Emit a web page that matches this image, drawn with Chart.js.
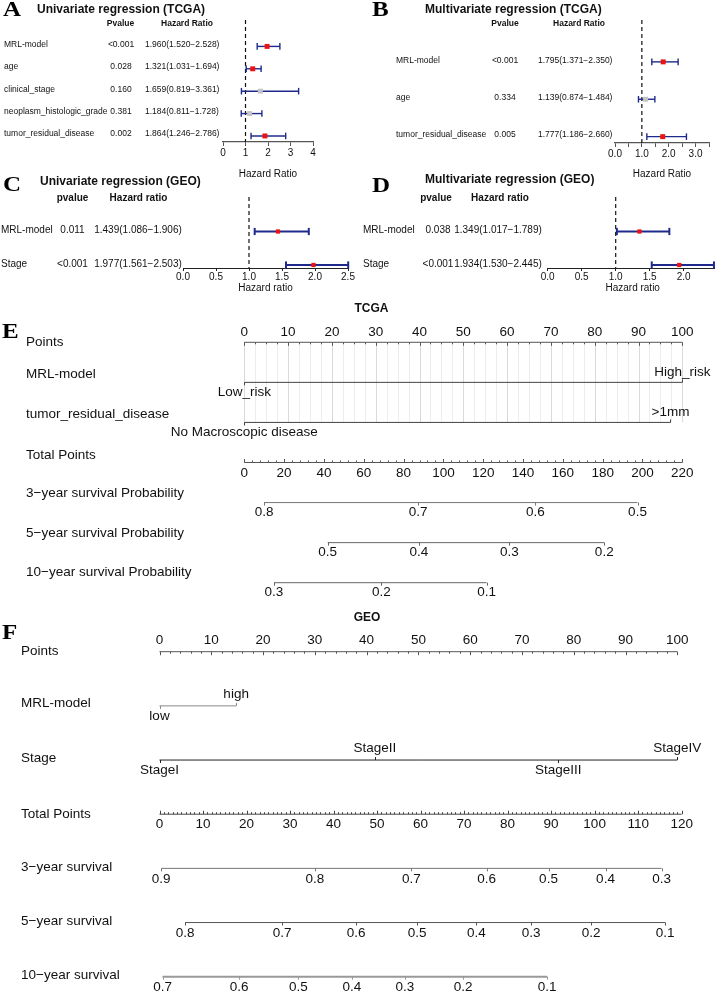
<!DOCTYPE html>
<html>
<head>
<meta charset="utf-8">
<script src="https://cdn.jsdelivr.net/npm/chart.js@4.4.1/dist/chart.umd.min.js"></script>
<style>
  html, body { margin: 0; padding: 0; background: #fff; }
  body { width: 715px; height: 993px; position: relative; overflow: hidden; }
  canvas { position: absolute; }
</style>
</head>
<body>
<canvas id="cA" width="357" height="180" style="left:0;top:0"></canvas>
<canvas id="cB" width="360" height="180" style="left:355px;top:0"></canvas>
<canvas id="cC" width="357" height="135" style="left:0;top:165px"></canvas>
<canvas id="cD" width="370" height="135" style="left:355px;top:165px"></canvas>
<canvas id="cE" width="715" height="305" style="left:0;top:295px"></canvas>
<canvas id="cF" width="715" height="393" style="left:0;top:600px"></canvas>
<script>
// ---- A: univariate regression (TCGA)
const uniTcgaVars = ['MRL-model', 'age', 'clinical_stage', 'neoplasm_histologic_grade', 'tumor_residual_disease'];
const uniTcgaP = ['<0.001', '0.028', '0.160', '0.381', '0.002'];
const uniTcgaHR = [1.960, 1.321, 1.659, 1.184, 1.864];
const uniTcgaLo = [1.520, 1.031, 0.819, 0.811, 1.246];
const uniTcgaHi = [2.528, 1.694, 3.361, 1.728, 2.786];

// ---- B: multivariate regression (TCGA)
const multiTcgaVars = ['MRL-model', 'age', 'tumor_residual_disease'];
const multiTcgaP = ['<0.001', '0.334', '0.005'];
const multiTcgaHR = [1.795, 1.139, 1.777];
const multiTcgaLo = [1.371, 0.874, 1.186];
const multiTcgaHi = [2.350, 1.484, 2.660];

// ---- C: univariate regression (GEO)
const uniGeoVars = ['MRL-model', 'Stage'];
const uniGeoP = ['0.011', '<0.001'];
const uniGeoHR = [1.439, 1.977];
const uniGeoLo = [1.086, 1.561];
const uniGeoHi = [1.906, 2.503];

// ---- D: multivariate regression (GEO)
const multiGeoVars = ['MRL-model', 'Stage'];
const multiGeoP = ['0.038', '<0.001'];
const multiGeoHR = [1.349, 1.934];
const multiGeoLo = [1.017, 1.530];
const multiGeoHi = [1.789, 2.445];

// ---- E: TCGA nomogram (probability ticks placed on the total points scale)
const tcgaPointTicks = [0, 10, 20, 30, 40, 50, 60, 70, 80, 90, 100];
const tcgaMrlLevels = ['Low_risk', 'High_risk'];
const tcgaMrlPoints = [0, 100];
const tcgaResidualLevels = ['No Macroscopic disease', '>1mm'];
const tcgaResidualPoints = [0, 97.3];
const tcgaTotalTicks = [0, 20, 40, 60, 80, 100, 120, 140, 160, 180, 200, 220];
const tcga3yLabels = ['0.8', '0.7', '0.6', '0.5'];
const tcga3yPoints = [9.9, 87.3, 146.2, 197.5];
const tcga5yLabels = ['0.5', '0.4', '0.3', '0.2'];
const tcga5yPoints = [41.9, 87.7, 133.1, 180.8];
const tcga10yLabels = ['0.3', '0.2', '0.1'];
const tcga10yPoints = [14.9, 68.8, 121.7];

// ---- F: GEO nomogram
const geoPointTicks = [0, 10, 20, 30, 40, 50, 60, 70, 80, 90, 100];
const geoMrlLevels = ['low', 'high'];
const geoMrlPoints = [0, 14.8];
const geoStageLevels = ['StageI', 'StageII', 'StageIII', 'StageIV'];
const geoStagePoints = [0, 41.6, 77.0, 100];
const geoTotalTicks = [0, 10, 20, 30, 40, 50, 60, 70, 80, 90, 100, 110, 120];
const geo3yLabels = ['0.9', '0.8', '0.7', '0.6', '0.5', '0.4', '0.3'];
const geo3yPoints = [0.4, 35.7, 57.9, 75.2, 89.4, 102.5, 115.4];
const geo5yLabels = ['0.8', '0.7', '0.6', '0.5', '0.4', '0.3', '0.2', '0.1'];
const geo5yPoints = [5.9, 28.2, 45.2, 59.2, 72.8, 85.4, 99.2, 116.2];
const geo10yLabels = ['0.7', '0.6', '0.5', '0.4', '0.3', '0.2', '0.1'];
const geo10yPoints = [0.7, 18.3, 31.9, 44.2, 56.4, 69.8, 89.1];

const SANS = '"Liberation Sans", Arial, sans-serif';
const SERIF = '"Liberation Serif", "Times New Roman", serif';
const NAVY = '#1f2a8c';
Chart.defaults.font.family = SANS;
Chart.defaults.color = '#111';

const isSig = p => p.startsWith('<') || parseFloat(p) < 0.05;
const hrText = (h, l, u) => h.toFixed(3) + '(' + l.toFixed(3) + '\u2212' + u.toFixed(3) + ')';

// panel letter: bold serif, a bit wider than the plain font; y is the baseline
function drawLetter(ctx, letter, x, y) {
  ctx.save();
  ctx.translate(x, y);
  ctx.scale(1.25, 1);
  ctx.font = 'bold 20px ' + SERIF;
  ctx.textAlign = 'left';
  ctx.textBaseline = 'alphabetic';
  ctx.fillStyle = '#000';
  ctx.fillText(letter, 0, 0);
  ctx.restore();
}

function forest(id, d, L) {
  const colors = d.p.map(p => isSig(p) ? '#ee1111' : '#c4c4c4');
  const datasets = [{
    data: d.hr.map((v, i) => ({ x: v, y: i })),
    pointStyle: 'rect', pointRadius: L.sq,
    pointBackgroundColor: colors, pointBorderColor: colors, pointBorderWidth: 0,
    clip: false
  }];
  // confidence intervals with end caps
  d.hr.forEach((v, i) => datasets.push({
    data: [{ x: d.lo[i], y: i }, { x: d.hi[i], y: i }],
    showLine: true, borderColor: NAVY, borderWidth: L.lw,
    pointStyle: 'line', pointRotation: 90, pointRadius: L.cap,
    pointBorderColor: NAVY, pointBorderWidth: L.lw, clip: false
  }));
  // reference line at HR = 1
  datasets.push({
    data: [{ x: 1, y: L.yMin }, { x: 1, y: L.yMax }],
    showLine: true, borderColor: '#111', borderWidth: 1.2, borderDash: [4, 3], pointRadius: 0
  });

  const labels = d.hr.map((v, i) => hrText(v, d.lo[i], d.hi[i]));
  const textPlugin = {
    id: 'forestText',
    afterDraw(chart) {
      const ctx = chart.ctx, ys = chart.scales.y;
      drawLetter(ctx, L.letter, L.letterX, L.letterY);
      ctx.save();
      ctx.fillStyle = '#111';
      ctx.textBaseline = 'middle';
      ctx.textAlign = 'left';
      ctx.font = 'bold 12px ' + SANS;
      ctx.fillText(L.title, L.titleX, L.titleY);
      ctx.textAlign = 'center';
      ctx.font = 'bold ' + L.fs + 'px ' + SANS;
      ctx.fillText(L.pHead, L.pHeadX, L.headY);
      ctx.fillText(L.hrHead, L.hrHeadX, L.headY);
      ctx.font = L.fs + 'px ' + SANS;
      d.vars.forEach((v, i) => {
        const py = ys.getPixelForValue(i) + L.textDy;
        ctx.textAlign = 'left';
        ctx.fillText(v, L.nameX, py);
        ctx.textAlign = 'center';
        ctx.fillText(d.p[i], L.pX, py);
        ctx.textAlign = L.hrAlign;
        ctx.fillText(labels[i], L.hrX, py);
      });
      ctx.restore();
    }
  };

  new Chart(document.getElementById(id), {
    type: 'scatter',
    data: { datasets },
    options: {
      responsive: false, animation: false, events: [],
      layout: { padding: L.pad },
      plugins: { legend: { display: false }, tooltip: { enabled: false } },
      scales: {
        x: {
          type: 'linear', min: 0, max: L.xMax,
          ticks: {
            stepSize: L.step, autoSkip: false, maxRotation: 0, padding: L.tickPad,
            font: { size: 10, lineHeight: L.lh }, color: '#111', callback: L.fmt
          },
          grid: { drawOnChartArea: false, drawTicks: true, tickLength: L.tl, tickColor: L.axisColor, tickWidth: 1 },
          border: { display: true, color: L.axisColor, width: L.axisW },
          title: {
            display: true, text: L.axisTitle, color: '#111',
            font: { size: 10, lineHeight: L.lh }, padding: { top: L.titlePad, bottom: 0 }
          }
        },
        y: { type: 'linear', display: false, reverse: true, min: L.yMin, max: L.yMax }
      }
    },
    plugins: [textPlugin]
  });
}

forest('cA',
  { vars: uniTcgaVars, p: uniTcgaP, hr: uniTcgaHR, lo: uniTcgaLo, hi: uniTcgaHi },
  { letter: 'A', letterX: 3, letterY: 16, title: 'Univariate regression (TCGA)', titleX: 37, titleY: 9.5,
    headY: 24, pHead: 'Pvalue', pHeadX: 120.5, hrHead: 'Hazard Ratio', hrHeadX: 187,
    nameX: 4, pX: 121, hrX: 145, hrAlign: 'left', fs: 8.5, textDy: -2,
    pad: { left: 223, right: 44, top: 20, bottom: 0 },
    xMax: 4, step: 1, fmt: v => String(v), tl: 4, tickPad: 1.5, lh: 1.2, titlePad: 7,
    axisTitle: 'Hazard Ratio', axisColor: '#555', axisW: 1.3,
    yMin: -1.18, yMax: 4.27, sq: 3.5, cap: 3.3, lw: 1.4 });

forest('cB',
  { vars: multiTcgaVars, p: multiTcgaP, hr: multiTcgaHR, lo: multiTcgaLo, hi: multiTcgaHi },
  { letter: 'B', letterX: 17, letterY: 16, title: 'Multivariate regression (TCGA)', titleX: 70, titleY: 10,
    headY: 24, pHead: 'Pvalue', pHeadX: 150, hrHead: 'Hazard Ratio', hrHeadX: 224,
    nameX: 41, pX: 150, hrX: 183, hrAlign: 'left', fs: 8.5, textDy: -1.5,
    pad: { left: 260, right: 6, top: 20, bottom: 0 },
    xMax: 3.5, step: 0.5, fmt: v => (Number.isInteger(v) ? v.toFixed(1) : ''), tl: 4, tickPad: 1, lh: 1.2, titlePad: 7,
    axisTitle: 'Hazard Ratio', axisColor: '#555', axisW: 1.3,
    yMin: -1.12, yMax: 2.17, sq: 3.5, cap: 3.3, lw: 1.4 });

forest('cC',
  { vars: uniGeoVars, p: uniGeoP, hr: uniGeoHR, lo: uniGeoLo, hi: uniGeoHi },
  { letter: 'C', letterX: 3, letterY: 25.5, title: 'Univariate regression (GEO)', titleX: 40, titleY: 16.7,
    headY: 33, pHead: 'pvalue', pHeadX: 72.5, hrHead: 'Hazard ratio', hrHeadX: 138.5,
    nameX: 1, pX: 72.5, hrX: 138, hrAlign: 'center', fs: 10, textDy: -1,
    pad: { left: 183, right: 9, top: 32, bottom: 7 },
    xMax: 2.5, step: 0.5, fmt: v => v.toFixed(1), tl: 3, tickPad: 1, lh: 1.0, titlePad: 0,
    axisTitle: 'Hazard ratio', axisColor: '#222', axisW: 1,
    yMin: -1.03, yMax: 1.09, sq: 3, cap: 3.6, lw: 2 });

// the 2.5 tick of panel D falls off the right edge of the figure
forest('cD',
  { vars: multiGeoVars, p: multiGeoP, hr: multiGeoHR, lo: multiGeoLo, hi: multiGeoHi },
  { letter: 'D', letterX: 17, letterY: 26.5, title: 'Multivariate regression (GEO)', titleX: 70, titleY: 15,
    headY: 33, pHead: 'pvalue', pHeadX: 81, hrHead: 'Hazard ratio', hrHeadX: 145,
    nameX: 8, pX: 83, hrX: 143, hrAlign: 'center', fs: 10, textDy: -1,
    pad: { left: 192.7, right: 7.3, top: 32, bottom: 7 },
    xMax: 2.5, step: 0.5, fmt: v => (v < 2.5 ? v.toFixed(1) : ''), tl: 3, tickPad: 1, lh: 1.0, titlePad: 0,
    axisTitle: 'Hazard ratio', axisColor: '#222', axisW: 1,
    yMin: -1.03, yMax: 1.09, sq: 3, cap: 3.6, lw: 2 });

function nomogram(id, S) {
  const datasets = S.rows.map((r, i) => {
    const xs = r.pts || r.ticks;
    return {
      xAxisID: r.scale, yAxisID: 'y',
      data: [{ x: xs[0], y: i }, { x: xs[xs.length - 1], y: i }],
      showLine: true, borderColor: r.color || '#555', borderWidth: r.lw || 1,
      pointRadius: 0, clip: false
    };
  });

  const line = (ctx, x1, y1, x2, y2) => { ctx.beginPath(); ctx.moveTo(x1, y1); ctx.lineTo(x2, y2); ctx.stroke(); };

  const drawPlugin = {
    id: 'nomo',
    beforeDatasetsDraw(chart) {
      if (!S.grid) return;
      const ctx = chart.ctx, xs = chart.scales.x, ys = chart.scales.y;
      const y1 = ys.getPixelForValue(S.grid.from), y2 = ys.getPixelForValue(S.grid.to);
      ctx.save();
      ctx.lineWidth = 1;
      for (let v = 0; v <= 100 + 1e-9; v += S.grid.step) {
        const px = Math.round(xs.getPixelForValue(v)) + 0.5;
        ctx.strokeStyle = (Math.abs(v % 10) < 1e-6) ? '#dadada' : '#ededed';
        line(ctx, px, y1, px, y2);
      }
      ctx.restore();
    },
    afterDatasetsDraw(chart) {
      const ctx = chart.ctx, ys = chart.scales.y;
      drawLetter(ctx, S.letter, 2, S.letterY);
      ctx.save();
      ctx.fillStyle = '#111';
      ctx.textBaseline = 'middle';
      ctx.textAlign = 'center';
      ctx.font = 'bold 12px ' + SANS;
      ctx.fillText(S.title, S.titleX, S.titleY);
      ctx.font = S.font;
      ctx.lineWidth = 1;
      S.rows.forEach((r, i) => {
        const sx = chart.scales[r.scale];
        const py = ys.getPixelForValue(i);
        ctx.strokeStyle = r.color || '#555';
        ctx.textAlign = 'left';
        ctx.fillText(r.label, S.labelX, py + (r.labelDy || 0));
        ctx.textAlign = 'center';
        if (r.ticks) {
          const lo = r.ticks[0], hi = r.ticks[r.ticks.length - 1];
          for (let k = 0; lo + k * r.minor <= hi + 1e-9; k++) {
            const v = lo + k * r.minor;
            const major = r.ticks.some(t => Math.abs(t - v) < 1e-6);
            const px = Math.round(sx.getPixelForValue(v)) + 0.5;
            line(ctx, px, py, px, py + r.tickDir * (major ? 3.5 : 2));
          }
          r.ticks.forEach(t => ctx.fillText(String(t), sx.getPixelForValue(t), py + r.textDy));
        } else {
          r.names.forEach((n, j) => {
            const above = r.kind === 'cat' && j % 2 === 1;
            const px = Math.round(sx.getPixelForValue(r.pts[j])) + 0.5;
            line(ctx, px, py, px, py + (above ? -3 : 3));
            const dy = r.kind === 'prob' ? S.probDy : (above ? S.aboveDy : S.belowDy);
            ctx.fillText(n, sx.getPixelForValue(r.pts[j]), py + dy);
          });
        }
      });
      ctx.restore();
    }
  };

  new Chart(document.getElementById(id), {
    type: 'scatter',
    data: { datasets },
    options: {
      responsive: false, animation: false, events: [],
      layout: { padding: S.pad },
      plugins: { legend: { display: false }, tooltip: { enabled: false } },
      scales: {
        x: { type: 'linear', position: 'bottom', display: false, min: 0, max: 100 },
        xt: { type: 'linear', axis: 'x', position: 'bottom', display: false, min: 0, max: S.totalMax },
        y: { type: 'linear', display: false, reverse: true, min: 0, max: S.rows.length - 1 }
      }
    },
    plugins: [drawPlugin]
  });
}

nomogram('cE', {
  letter: 'E', letterY: 43, title: 'TCGA', titleX: 371.5, titleY: 13.3,
  labelX: 26, font: '13.5px ' + SANS, totalMax: 220,
  pad: { left: 244.3, right: 32.7, top: 47.3, bottom: 17.3 },
  grid: { from: 0, to: 2, step: 2.5 },
  aboveDy: -10, belowDy: 10, probDy: 10,
  rows: [
    { label: 'Points', scale: 'x', ticks: tcgaPointTicks, minor: 2.5, tickDir: 1, textDy: -10, labelDy: 0, color: '#555' },
    { label: 'MRL-model', scale: 'x', kind: 'cat', names: tcgaMrlLevels, pts: tcgaMrlPoints, labelDy: -8, color: '#444' },
    { label: 'tumor_residual_disease', scale: 'x', kind: 'cat', names: tcgaResidualLevels, pts: tcgaResidualPoints, labelDy: -8, color: '#444' },
    { label: 'Total Points', scale: 'xt', ticks: tcgaTotalTicks, minor: 4, tickDir: -1, textDy: 10.5, labelDy: -7, color: '#555' },
    { label: '3\u2212year survival Probability', scale: 'xt', kind: 'prob', names: tcga3yLabels, pts: tcga3yPoints, labelDy: -9, color: '#777' },
    { label: '5\u2212year survival Probability', scale: 'xt', kind: 'prob', names: tcga5yLabels, pts: tcga5yPoints, labelDy: -9, color: '#666' },
    { label: '10\u2212year survival Probability', scale: 'xt', kind: 'prob', names: tcga10yLabels, pts: tcga10yPoints, labelDy: -10, color: '#666' }
  ]
});

nomogram('cF', {
  letter: 'F', letterY: 38.5, title: 'GEO', titleX: 367, titleY: 18,
  labelX: 21, font: '13.5px ' + SANS, totalMax: 119,
  pad: { left: 159.5, right: 37.7, top: 51.7, bottom: 16.3 },
  aboveDy: -12, belowDy: 10, probDy: 11,
  rows: [
    { label: 'Points', scale: 'x', ticks: geoPointTicks, minor: 2, tickDir: 1, textDy: -11.5, labelDy: 0, color: '#555' },
    { label: 'MRL-model', scale: 'x', kind: 'cat', names: geoMrlLevels, pts: geoMrlPoints, labelDy: -3, color: '#888' },
    { label: 'Stage', scale: 'x', kind: 'cat', names: geoStageLevels, pts: geoStagePoints, labelDy: -2, color: '#222' },
    { label: 'Total Points', scale: 'xt', ticks: geoTotalTicks, minor: 1, tickDir: -1, textDy: 10, labelDy: 0, color: '#444' },
    { label: '3\u2212year survival', scale: 'xt', kind: 'prob', names: geo3yLabels, pts: geo3yPoints, labelDy: -1, color: '#777' },
    { label: '5\u2212year survival', scale: 'xt', kind: 'prob', names: geo5yLabels, pts: geo5yPoints, labelDy: -1, color: '#555' },
    { label: '10\u2212year survival', scale: 'xt', kind: 'prob', names: geo10yLabels, pts: geo10yPoints, labelDy: -1, color: '#999', lw: 2 }
  ]
});
</script>
</body>
</html>
